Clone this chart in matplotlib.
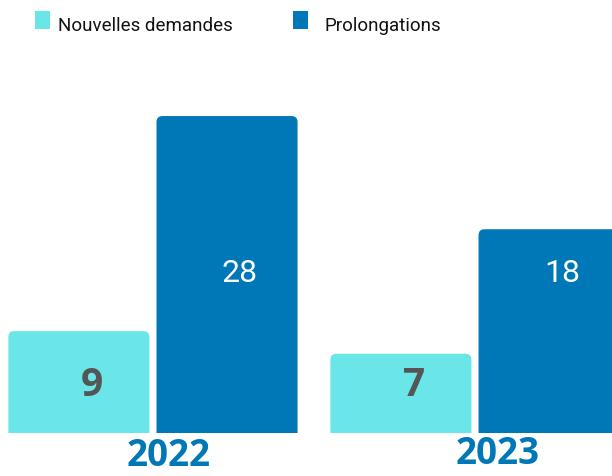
import matplotlib
matplotlib.use("Agg")
import matplotlib.pyplot as plt
from matplotlib.patches import FancyBboxPatch, Rectangle
import matplotlib.transforms as mtransforms

years = ["2022", "2023"]
series = ["Nouvelles demandes", "Prolongations"]
nouvelles = [9, 7]
prolongations = [28, 18]

CYAN = "#6AE5E8"
BLUE = "#0077B6"

W, H = 612, 477
fig = plt.figure(figsize=(W / 100, H / 100), dpi=100)
# axes: baseline at y=434px, 28 -> y=117px
ax = fig.add_axes([0, 43 / H, 1, 339.6 / H])
ax.set_xlim(-0.475, 1.4255)
ax.set_ylim(0, 30)
ax.axis("off")

x = list(range(len(years)))
width = 0.438
off = 0.23
bars1 = ax.bar([i - off for i in x], nouvelles, width, color=CYAN)
bars2 = ax.bar([i + off for i in x], prolongations, width, color=BLUE)

# swap plain rectangles for ones with slightly rounded top corners
px_x = 322.0   # pixels per x unit
px_y = 11.32   # pixels per y unit
r = 6 / px_x
for rect in list(bars1) + list(bars2):
    bx, by = rect.get_x(), rect.get_y()
    bw, bh = rect.get_width(), rect.get_height()
    rect.set_visible(False)
    p = FancyBboxPatch((bx, by - 2), bw, bh + 2,
                       boxstyle=f"round,pad=0,rounding_size={r}",
                       mutation_aspect=px_x / px_y,
                       facecolor=rect.get_facecolor(), edgecolor="none")
    ax.add_patch(p)

# value labels
for i, v in enumerate(nouvelles):
    ax.text(i - off + 0.04, 4.3, str(v), ha="center", va="center",
            fontsize=28, fontweight="bold", color="#555555", family="Open Sans")
for i, v in enumerate(prolongations):
    ax.text(i + off + 0.04, 14.2, str(v), ha="center", va="center",
            fontsize=23, color="white", family="Roboto")

# year labels under the groups
trans = mtransforms.blended_transform_factory(ax.transData, ax.transAxes)
year_pos = [(0.047, -0.066), (1.071, -0.058)]
for (tx, ty), yr in zip(year_pos, years):
    ax.text(tx, ty, yr, transform=trans, ha="center", va="center",
            fontsize=26.5, fontweight="bold", color=BLUE, family="Open Sans",
            clip_on=False)

# legend drawn by hand
leg = [(35, 58, CYAN), (293, 325, BLUE)]
for (sx, tx, c), name in zip(leg, series):
    fig.add_artist(Rectangle((sx / W, 1 - 30 / H), 15 / W, 18 / H,
                             transform=fig.transFigure, facecolor=c,
                             edgecolor="none"))
    fig.text(tx / W, 1 - 26 / H, name, ha="left", va="center",
             fontsize=13.5, color="#111111", family="Roboto")

fig.savefig("out.png", dpi=100)
